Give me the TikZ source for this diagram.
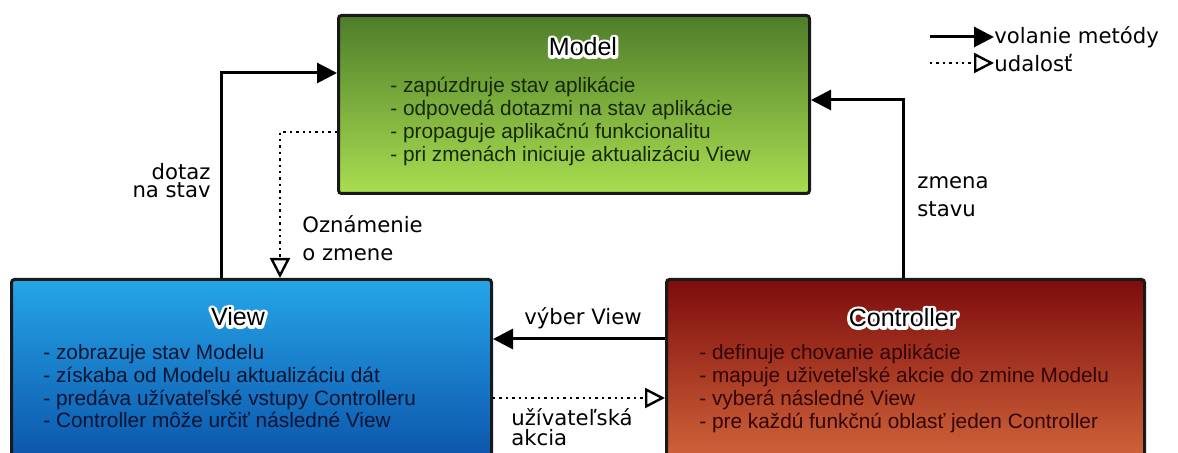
\documentclass[tikz,border=0pt]{standalone}
\usepackage{fontspec}
\setmainfont{Liberation Sans}
\newfontfamily\lblfont{DejaVu Sans}
\usetikzlibrary{arrows.meta}

\definecolor{modeltop}{RGB}{78,125,42}
\definecolor{modelbot}{RGB}{170,222,80}
\definecolor{modeltext}{RGB}{22,40,8}
\definecolor{viewtop}{RGB}{38,165,232}
\definecolor{viewbot}{RGB}{12,85,170}
\definecolor{viewtext}{RGB}{6,20,50}
\definecolor{ctrltop}{RGB}{125,12,12}
\definecolor{ctrlbot}{RGB}{208,100,58}
\definecolor{ctrltext}{RGB}{50,6,6}

\newcommand\halo[1]{\leavevmode\rlap{\special{pdf:code q 1 Tr 3 w 1 J 1 j 1 1 1 RG}#1\special{pdf:code Q}}#1}

\tikzset{
  box/.style={draw=black!90,line width=1.5pt,rounded corners=1.5pt,anchor=north west,inner sep=0pt},
  boxtitle/.style={font=\fontsize{12.5}{14}\selectfont},
  items/.style={font=\fontsize{10.4}{11.4}\selectfont,align=left,anchor=north west,inner sep=0pt},
  lbl/.style={font=\lblfont\fontsize{10.6}{9}\selectfont,inner sep=0pt},
  call/.style={-{Triangle[length=10pt,width=10pt]},line width=1.5pt},
  event/.style={-{Triangle[open,length=10pt,width=10pt,line width=1.2pt]},line width=1.2pt,dotted}
}

\begin{document}
\begin{tikzpicture}[x=0.5pt,y=-0.5pt]

\clip (0,0) rectangle (1178,453);

\node (model) [box,top color=modeltop,bottom color=modelbot,minimum width=235.5pt,minimum height=89pt] at (337,14) {};
\node (view) [box,top color=viewtop,bottom color=viewbot,minimum width=240pt,minimum height=90pt] at (10,278) {};
\node (ctrl) [box,top color=ctrltop,bottom color=ctrlbot,minimum width=239pt,minimum height=90pt] at (665,278) {};

\node (model-title) [boxtitle] at (583,47) {\halo{Model}};
\node (view-title) [boxtitle] at (238,317) {\halo{View}};
\node (ctrl-title) [boxtitle] at (903,318) {\halo{Controller}};

\node (model-items) [items,text=modeltext] at (390,77) {- zapúzdruje stav aplikácie\\- odpovedá dotazmi na stav aplikácie\\- propaguje aplikačnú funkcionalitu\\- pri zmenách iniciuje aktualizáciu View};
\node (view-items) [items,text=viewtext] at (43,344) {- zobrazuje stav Modelu\\- získaba od Modelu aktualizáciu dát\\- predáva užívateľské vstupy Controlleru\\- Controller môže určiť následné View};
\node (ctrl-items) [items,text=ctrltext] at (699,344) {- definuje chovanie aplikácie\\- mapuje uživeteľské akcie do zmine Modelu\\- vyberá následné View\\- pre každú funkčnú oblasť jeden Controller};

\coordinate (q) at (221,73);
\coordinate (n) at (280,132);
\coordinate (z) at (903,100);
\coordinate (s) at (0,339);
\coordinate (u) at (0,398);

\draw [call] (view.north -| q) |- (q -| model.west);
\draw [event] (model.west |- n) -| (view.north -| n);
\draw [call] (ctrl.north -| z) |- (model.east |- z);
\draw [call] (ctrl.west |- s) -- (view.east |- s);
\draw [event] (view.east |- u) -- (ctrl.west |- u);

\node (dotaz) [lbl,align=right,anchor=east] at (211,181) {dotaz\\na stav};
\node (oznam) [lbl,align=left,anchor=west] at (302,238) {Oznámenie\\[5pt]o zmene};
\node (zmena) [lbl,align=left,anchor=west] at (917,197) {zmena\\[5pt]stavu};
\node (vyber) [lbl] at (583,318) {výber View};
\node (akcia) [lbl,align=left,anchor=west] at (511,427) {užívateľská\\[1pt]akcia};

\node (call-lbl) [lbl,anchor=west] at (994,37) {volanie metódy};
\node (event-lbl) [lbl,anchor=west] at (994,63) {udalosť};
\coordinate (call-start) at (930,37);
\coordinate (event-start) at (930,63);
\draw [call] (call-start) -- (call-lbl.west);
\draw [event] (event-start) -- (event-lbl.west);

\end{tikzpicture}
\end{document}
